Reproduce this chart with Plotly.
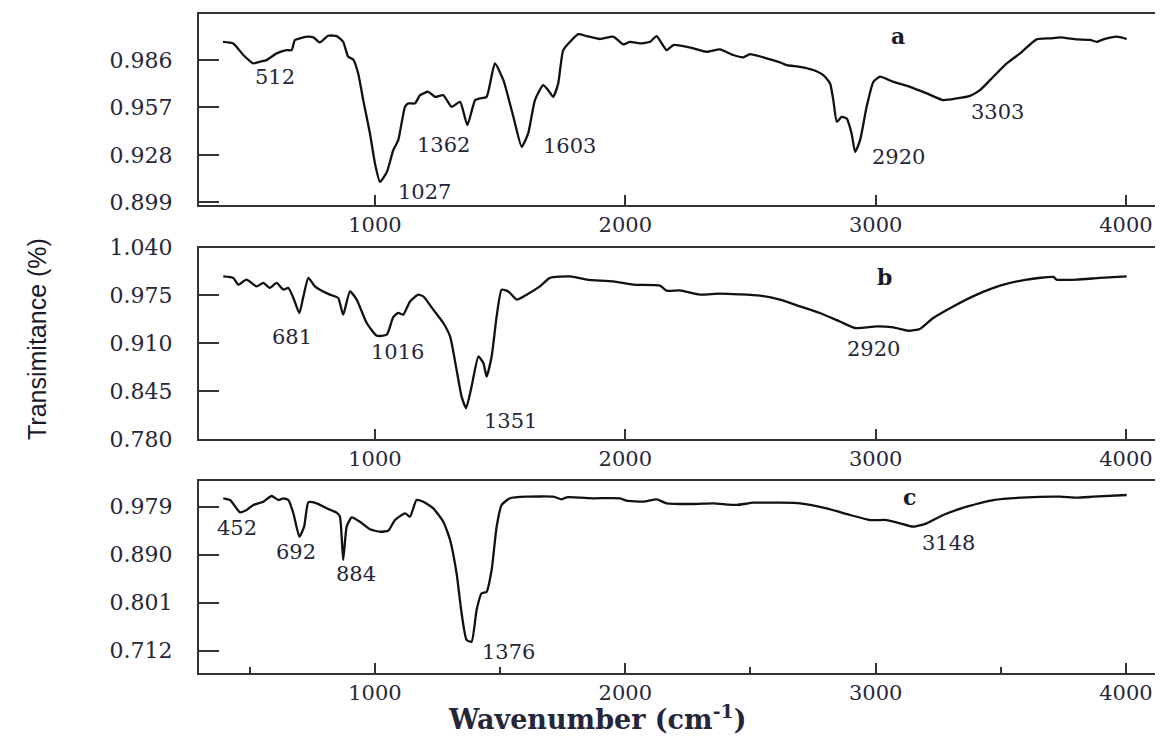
import plotly.graph_objects as go

# ---------------- data ----------------
wn_a = [393, 434, 474, 514, 541, 567, 607, 647, 667, 680, 700, 727, 754, 780, 813, 847, 873, 893, 913, 933,
        953, 980, 1000, 1020, 1047, 1073, 1093, 1120, 1133, 1160, 1180, 1213, 1240, 1273, 1306, 1340, 1369,
        1400, 1419, 1446, 1479, 1513, 1553, 1586, 1612, 1639, 1672, 1692, 1712, 1732, 1752, 1786, 1812, 1846,
        1899, 1952, 1992, 2019, 2059, 2099, 2125, 2165, 2192, 2272, 2325, 2378, 2431, 2471, 2498, 2551, 2618,
        2645, 2698, 2751, 2791, 2818, 2831, 2845, 2864, 2884, 2904, 2918, 2938, 2964, 2991, 3017, 3071, 3137,
        3204, 3270, 3324, 3377, 3417, 3470, 3524, 3577, 3643, 3697, 3737, 3803, 3857, 3883, 3910, 3963, 4003]
tr_a = [0.9972, 0.9962, 0.9891, 0.9840, 0.9850, 0.9860, 0.9901, 0.9921, 0.9921, 0.9983, 0.9993, 1.0003,
        0.9999, 0.9968, 1.0009, 1.0007, 0.9972, 0.9880, 0.9864, 0.9778, 0.9615, 0.9411, 0.9227, 0.9114,
        0.9173, 0.9308, 0.9370, 0.9574, 0.9595, 0.9595, 0.9645, 0.9666, 0.9635, 0.9645, 0.9574, 0.9604,
        0.9462, 0.9615, 0.9625, 0.9635, 0.9840, 0.9737, 0.9512, 0.9329, 0.9411, 0.9615, 0.9707, 0.9676,
        0.9635, 0.9717, 0.9921, 0.9983, 1.0019, 1.0007, 0.9989, 1.0003, 0.9956, 0.9972, 0.9962, 0.9972,
        1.0007, 0.9921, 0.9952, 0.9932, 0.9911, 0.9926, 0.9891, 0.9877, 0.9897, 0.9877, 0.9846, 0.9829,
        0.9819, 0.9799, 0.9768, 0.9717, 0.9615, 0.9482, 0.9512, 0.9503, 0.9411, 0.9298, 0.9370, 0.9574,
        0.9727, 0.9758, 0.9727, 0.9696, 0.9656, 0.9615, 0.9625, 0.9641, 0.9676, 0.9758, 0.9840, 0.9901,
        0.9987, 0.9993, 0.9999, 0.9987, 0.9983, 0.9972, 0.9987, 1.0003, 0.9989]

wn_b = [394, 434, 454, 487, 527, 554, 580, 607, 634, 654, 674, 698, 714, 734, 760, 780, 820, 853, 873, 900,
        927, 967, 1007, 1047, 1073, 1093, 1113, 1140, 1173, 1193, 1233, 1273, 1300, 1326, 1346, 1364, 1386,
        1413, 1433, 1446, 1466, 1486, 1506, 1533, 1566, 1606, 1659, 1699, 1779, 1846, 1952, 2032, 2139, 2165,
        2218, 2298, 2378, 2538, 2618, 2698, 2777, 2857, 2918, 3004, 3071, 3131, 3177, 3230, 3310, 3404, 3497,
        3604, 3710, 3723, 3803, 3896, 4003]
tr_b = [1.0008, 0.9987, 0.9896, 0.9964, 0.9872, 0.9919, 0.9851, 0.9919, 0.9828, 0.9851, 0.9715, 0.9511,
        0.9736, 0.9987, 0.9872, 0.9828, 0.9760, 0.9715, 0.9488, 0.9804, 0.9692, 0.9375, 0.9202, 0.9216,
        0.9454, 0.9511, 0.9488, 0.9668, 0.9760, 0.9736, 0.9556, 0.9375, 0.9192, 0.8740, 0.8376, 0.8219,
        0.8512, 0.8920, 0.8831, 0.8648, 0.8920, 0.9464, 0.9828, 0.9804, 0.9692, 0.9760, 0.9872, 0.9987,
        1.0008, 0.9964, 0.9940, 0.9896, 0.9882, 0.9814, 0.9818, 0.9760, 0.9773, 0.9746, 0.9692, 0.9600,
        0.9511, 0.9396, 0.9307, 0.9328, 0.9315, 0.9270, 0.9293, 0.9443, 0.9600, 0.9760, 0.9882, 0.9964,
        1.0000, 0.9964, 0.9964, 0.9987, 1.0008]

wn_c = [394, 421, 461, 487, 514, 554, 587, 614, 634, 654, 674, 698, 717, 734, 767, 807, 847, 860, 873, 887,
        907, 940, 980, 1020, 1053, 1080, 1120, 1140, 1166, 1193, 1233, 1273, 1300, 1326, 1346, 1366, 1386,
        1406, 1426, 1446, 1466, 1486, 1506, 1539, 1606, 1712, 1746, 1766, 1872, 1979, 2005, 2072, 2125, 2165,
        2272, 2352, 2445, 2511, 2618, 2698, 2804, 2898, 2978, 3044, 3097, 3150, 3204, 3270, 3364, 3470, 3604,
        3737, 3803, 3870, 4003]
tr_c = [0.9946, 0.9914, 0.9686, 0.9729, 0.9822, 0.9883, 0.9988, 0.9914, 0.9946, 0.9914, 0.9668, 0.9234,
        0.9419, 0.9872, 0.9853, 0.9760, 0.9679, 0.9605, 0.8802, 0.9419, 0.9593, 0.9512, 0.9371, 0.9326,
        0.9345, 0.9543, 0.9668, 0.9605, 0.9914, 0.9883, 0.9760, 0.9512, 0.9173, 0.8555, 0.7814, 0.7319,
        0.7287, 0.7875, 0.8184, 0.8214, 0.8616, 0.9419, 0.9822, 0.9946, 0.9975, 0.9975, 0.9927, 0.9964,
        0.9946, 0.9946, 0.9901, 0.9883, 0.9927, 0.9853, 0.9840, 0.9853, 0.9822, 0.9864, 0.9864, 0.9853,
        0.9760, 0.9636, 0.9543, 0.9543, 0.9482, 0.9419, 0.9482, 0.9636, 0.9790, 0.9914, 0.9964, 0.9975,
        0.9957, 0.9975, 1.0007]

yticks_a = [0.899, 0.928, 0.957, 0.986]
yticks_b = [0.780, 0.845, 0.910, 0.975, 1.040]
yticks_c = [0.712, 0.801, 0.890, 0.979]
xticks = [1000, 2000, 3000, 4000]

# peak labels: (text, wavenumber position, transmittance position)
peaks_a = [("512", 600, 0.9756), ("1027", 1198, 0.9051), ("1362", 1272, 0.9339),
           ("1603", 1779, 0.9333), ("2920", 3093, 0.9265), ("3303", 3485, 0.9544)]
peaks_b = [("681", 668, 0.9188), ("1016", 1090, 0.8984), ("1351", 1543, 0.8039),
           ("2920", 2992, 0.9018)]
peaks_c = [("452", 447, 0.9395), ("692", 686, 0.8941), ("884", 926, 0.8542),
           ("1376", 1533, 0.7087), ("3148", 3291, 0.9117)]
panel_labels = [("a", 3089, 1.0010), ("b", 3035, 1.0004), ("c", 3137, 0.9979)]

# ---------------- figure ----------------
# the page body adds an 8 px margin, so the figure is laid out in page pixels minus 8
OFF = 8
W, H = 1163 - OFF, 738 - OFF
TXT = "#26263a"
AX = "#333333"
SERIF = "DejaVu Serif, Liberation Serif, serif"


def px_x(p):
    return (p - OFF) / W


def px_y(p):
    return 1 - (p - OFF) / H


fig = go.Figure()
for i, (wn, tr) in enumerate([(wn_a, tr_a), (wn_b, tr_b), (wn_c, tr_c)]):
    sfx = "" if i == 0 else str(i + 1)
    fig.add_trace(go.Scatter(x=wn, y=tr, mode="lines", xaxis="x" + sfx, yaxis="y" + sfx,
                             line=dict(color="#111111", width=2.3, shape="spline", smoothing=0.5),
                             showlegend=False, hoverinfo="skip"))

xrange_ = [297, 4148]
ydomains = [(px_y(205), px_y(14)), (px_y(439), px_y(247.5)), (px_y(672.7), px_y(480.7))]
yranges = [[0.8973, 1.0142], [0.780, 1.040], [0.6712, 1.0272]]
yticksets = [yticks_a, yticks_b, yticks_c]

layout = dict(width=W, height=H, margin=dict(l=0, r=0, t=0, b=0, pad=0, autoexpand=False),
              paper_bgcolor="white", plot_bgcolor="white", showlegend=False)
for i in range(3):
    sfx = "" if i == 0 else str(i + 1)
    xa = dict(domain=[px_x(199), 1.0], range=xrange_, anchor="y" + sfx, automargin=False,
              tickvals=xticks, ticktext=[str(v) for v in xticks],
              ticks="inside", ticklen=10, tickwidth=2, tickcolor=AX,
              showline=True, linecolor=AX, linewidth=2, mirror=True,
              showgrid=False, zeroline=False, ticklabelstandoff=0,
              tickfont=dict(family=SERIF, size=21, color=TXT))
    if i == 2:
        xa["minor"] = dict(tickvals=[500, 1500, 2500, 3500], ticks="inside", ticklen=6,
                           tickwidth=2, tickcolor=AX)
    ya = dict(domain=list(ydomains[i]), range=yranges[i], anchor="x" + sfx, automargin=False,
              tickvals=yticksets[i], ticktext=["%.3f" % v for v in yticksets[i]],
              ticks="inside", ticklen=20, tickwidth=2, tickcolor=AX,
              showline=True, linecolor=AX, linewidth=2, mirror=False,
              showgrid=False, zeroline=False, ticklabelstandoff=20,
              tickfont=dict(family=SERIF, size=22, color=TXT))
    layout["xaxis" + sfx] = xa
    layout["yaxis" + sfx] = ya
fig.update_layout(**layout)

anns = []
for i, peaks in enumerate([peaks_a, peaks_b, peaks_c]):
    sfx = "" if i == 0 else str(i + 1)
    for txt, xv, yv in peaks:
        anns.append(dict(text=txt, x=xv, y=yv, xref="x" + sfx, yref="y" + sfx, showarrow=False,
                         xanchor="center", yanchor="middle",
                         font=dict(family=SERIF, size=21, color=TXT)))
for i, (txt, xv, yv) in enumerate(panel_labels):
    sfx = "" if i == 0 else str(i + 1)
    anns.append(dict(text="<b>%s</b>" % txt, x=xv, y=yv, xref="x" + sfx, yref="y" + sfx,
                     showarrow=False, xanchor="center", yanchor="middle",
                     font=dict(family=SERIF, size=22, color="#1a1a2a")))

anns.append(dict(text="Transimitance (%)", x=px_x(37), y=px_y(339), xref="paper", yref="paper",
                 textangle=-90, showarrow=False, xanchor="center", yanchor="middle",
                 font=dict(family="Liberation Sans, Arial, sans-serif", size=25, color="#1a1a2a")))
anns.append(dict(text="<b>Wavenumber (cm<sup>-1</sup>)</b>", x=px_x(597), y=px_y(717), xref="paper",
                 yref="paper", showarrow=False, xanchor="center", yanchor="middle",
                 font=dict(family=SERIF, size=27, color=TXT)))
fig.update_layout(annotations=anns)

fig.write_html("out.html")
